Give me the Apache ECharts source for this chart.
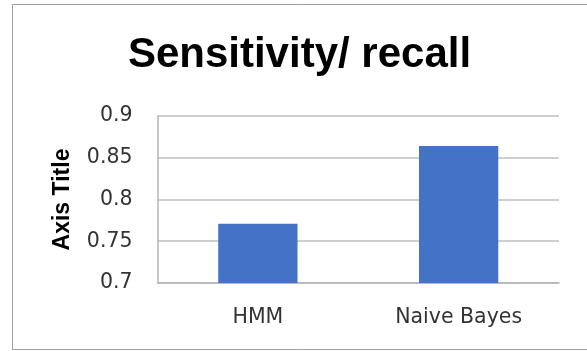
<!DOCTYPE html>
<html>
<head>
<meta charset="utf-8">
<script src="https://cdn.jsdelivr.net/npm/echarts@6/dist/echarts.min.js"></script>
<style>
html,body{margin:0;padding:0;background:#fff;}
#chart{width:587px;height:351px;}
</style>
</head>
<body>
<div id="chart"></div>
<script>
const titleText = 'Sensitivity/ recall';
const categories = ['HMM', 'Naive Bayes'];
const recallValues = [0.771, 0.864];
const yAxisName = 'Axis Title';
const yMin = 0.7, yMax = 0.9, yStep = 0.05;

const chart = echarts.init(document.getElementById('chart'), null, {renderer: 'canvas'});
chart.setOption({
  animation: false,
  backgroundColor: '#ffffff',
  title: {
    text: titleText,
    left: 299.5,
    textAlign: 'center',
    top: 34,
    padding: 0,
    textStyle: {fontFamily: 'Liberation Sans', fontWeight: 'bold', fontSize: 42, color: '#000000'}
  },
  graphic: [{
    type: 'rect',
    silent: true,
    shape: {x: 12.5, y: 4.5, width: 600, height: 345},
    style: {fill: 'none', stroke: '#a0a0a0', lineWidth: 1}
  }],
  grid: {left: 157.5, right: 28, top: 116, bottom: 68, containLabel: false},
  xAxis: {
    type: 'category',
    data: categories,
    axisTick: {show: false},
    axisLine: {show: true, lineStyle: {color: '#b4b4b4', width: 1.5}},
    axisLabel: {margin: 24, fontFamily: 'DejaVu Sans', fontSize: 20.5, color: '#333333'}
  },
  yAxis: {
    type: 'value',
    min: yMin, max: yMax, interval: yStep,
    name: yAxisName,
    nameLocation: 'middle',
    nameRotate: 90,
    nameGap: 83,
    nameTextStyle: {fontFamily: 'Liberation Sans', fontWeight: 'bold', fontSize: 23, color: '#000000'},
    axisLine: {show: true, lineStyle: {color: '#b4b4b4', width: 1.5}},
    axisTick: {show: false},
    splitLine: {show: true, lineStyle: {color: '#bfbfbf', width: 1.5}},
    axisLabel: {margin: 25, fontFamily: 'DejaVu Sans', fontSize: 20.5, color: '#333333'}
  },
  series: [{
    type: 'bar',
    data: recallValues,
    barWidth: '39.5%',
    itemStyle: {color: '#4472C4'}
  }]
});
</script>
</body>
</html>
